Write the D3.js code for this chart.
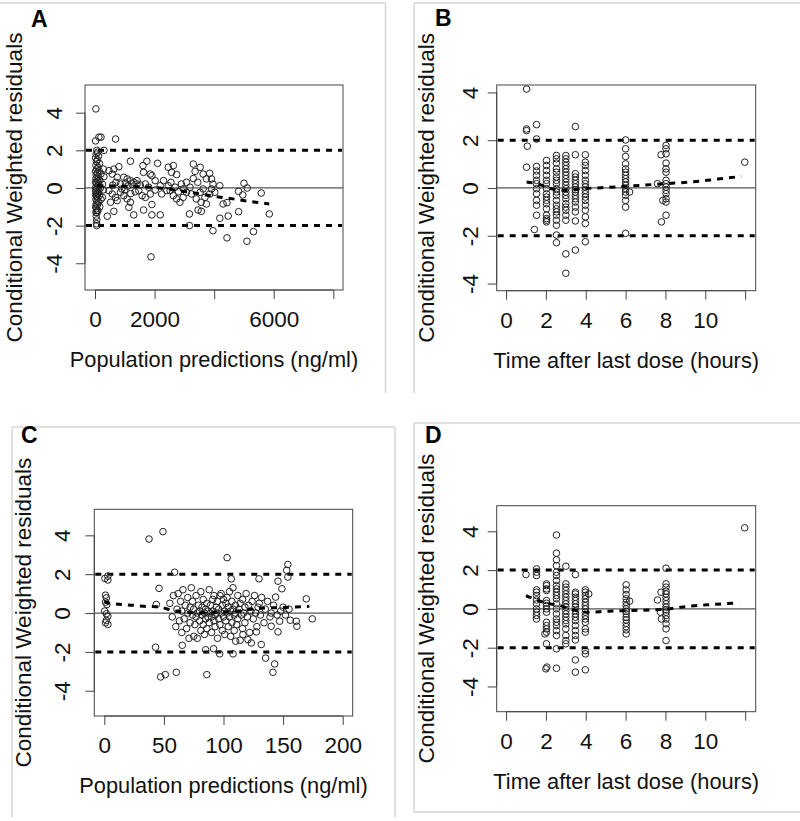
<!DOCTYPE html>
<html><head><meta charset="utf-8">
<script src="https://cdn.jsdelivr.net/npm/d3@7/dist/d3.min.js"></script>
<style>body{margin:0;background:#fff}svg{display:block}text{font-family:"Liberation Sans",Arial,sans-serif}</style>
</head><body>
<svg id="c" width="800" height="821"></svg>
<script>
// ---------------- DATA ----------------
const yTicks = [-4, -2, 0, 2, 4];
const ticksA = [0, 2000, 4000, 6000, 8000];
const tickLabelsA = ["0", "2000", "", "6000", ""];
const ticksTime = [0, 2, 4, 6, 8, 10, 12];
const tickLabelsTime = ["0", "2", "4", "6", "8", "10", ""];
const ticksC = [0, 50, 100, 150, 200];
const tickLabelsC = ["0", "50", "100", "150", "200"];
const yTitle = "Conditional Weighted residuals";
const xTitleA = "Population predictions (ng/ml)";
const xTitleB = "Time after last dose (hours)";
const limits = [-2, 2];

const pointsA = [[30,4.2],[130,2.7],[200,2.7],[20,2.5],[690,2.6],[300,2.0],[60,2.0],[90,1.9],[40,1.8],[120,1.7],[20,1.6],[80,1.5],[50,1.4],[150,1.3],[30,1.2],[100,1.1],[60,1.0],[20,0.9],[140,0.9],[80,0.8],[40,0.7],[200,0.75],[110,0.6],[30,0.5],[70,0.45],[160,0.4],[20,0.3],[50,0.25],[120,0.2],[90,0.1],[30,0.05],[180,0.0],[60,-0.05],[20,-0.1],[130,-0.15],[40,-0.2],[100,-0.25],[70,-0.3],[20,-0.35],[150,-0.4],[50,-0.45],[90,-0.5],[30,-0.6],[200,-0.6],[60,-0.7],[120,-0.75],[40,-0.85],[80,-0.9],[20,-1.0],[160,-1.0],[50,-1.1],[100,-1.2],[30,-1.3],[70,-1.3],[40,-1.5],[60,-1.7],[50,-1.9],[60,-2.0],[100,0.35],[250,0.2],[280,-0.1],[250,-0.5],[300,0.6],[280,1.0],[55,-1.2],
[467,0.92],[633,1.0],[800,1.13],[578,0.74],[744,0.57],[967,0.57],[1078,0.48],[1190,0.39],[1300,0.3],[1410,0.39],[855,0.21],[1022,0.25],[1245,0.21],[1410,0.21],[1520,0.16],[1690,0.21],[467,-0.14],[578,-0.32],[690,-0.5],[855,-0.23],[967,-0.41],[1078,-0.58],[1190,-0.76],[1135,-1.03],[744,-0.67],[522,-0.76],[633,-1.24],[411,-1.5],[1300,-1.43],[1630,-1.17],[1910,-0.88],[1910,-1.43],[2190,-1.43],[1690,-0.5],[1855,-0.32],[2020,-0.11],[2240,-0.32],[2300,0.39],[2460,0.12],[2520,-0.14],[2630,-0.41],[2740,-0.58],[2850,-0.76],[2960,-0.5],[3070,-0.23],[2900,0.21],[3070,0.3],[3190,0.04],[3240,-0.32],[3400,-0.58],[3560,-0.76],[3460,-1.17],[3570,-1.24],[3170,-1.38],[3740,-0.85],[3850,-0.32],[3910,-0.05],[4020,-0.23],[3960,0.21],[3740,0.48],[3910,0.48],[3630,0.74],[3360,0.88],[3530,1.1],[3300,1.27],[3850,0.78],[2630,1.19],[2460,1.1],[2570,0.83],[2740,0.71],[2100,1.31],[1740,1.42],[1610,1.19],[1630,0.83],[1855,0.74],[2020,0.39],[1190,1.42],[1910,0.65],[1470,-0.14],[1580,-0.41],[1800,0.04],[2190,0.12],[2410,-0.14],[2690,0.04],[2960,-0.05],[3630,-0.05],[3530,-0.23],[3690,-0.5],[900,-0.05],[1100,0.1],[1350,-0.2],[600,0.15],[700,0.3],[1000,-0.1],[1200,-0.3],[2550,0.3],[2800,-0.2],[3300,0.5],[3450,0.3],
[3170,-2.0],[3960,-2.27],[4190,-1.61],[4470,-1.49],[4300,-0.85],[4430,-0.78],[4820,-1.26],[4190,0.12],[5000,0.25],[5110,0.0],[4820,-0.18],[4960,-0.37],[5580,-0.27],[5850,-1.38],[4430,-2.65],[5100,-2.83],[5320,-2.32],[1880,-3.66]];
const trendA_x = [80, 1850, 2960, 4080, 4630, 5400, 5850];
const trendA_y = [0.12, 0.04, -0.18, -0.46, -0.58, -0.76, -0.85];

const pointsB = [[1.03,4.14],[1.03,2.47],[1.03,2.4],[1.07,1.75],[1.03,0.87],[1.42,-1.74],
[1.53,2.65],[1.53,2.05],[1.53,0.9],[1.53,0.71],[1.53,0.53],[1.53,0.32],[1.53,0.18],[1.53,-0.03],[1.53,-0.24],[1.53,-0.52],[1.53,-0.72],[1.53,-1.14],
[2.03,1.15],[2.03,0.94],[2.03,0.73],[2.03,0.53],[2.03,0.32],[2.03,0.18],[2.03,-0.03],[2.03,-0.24],[2.03,-0.38],[2.03,-0.52],[2.03,-0.66],[2.03,-0.87],[2.03,-1.14],[2.03,-1.28],[2.03,-1.35],[2.03,-1.42],
[2.53,1.36],[2.53,1.22],[2.53,1.04],[2.53,0.8],[2.53,0.66],[2.53,0.46],[2.53,0.32],[2.53,0.18],[2.53,-0.03],[2.53,-0.17],[2.53,-0.31],[2.53,-0.52],[2.53,-0.72],[2.53,-0.87],[2.53,-1.0],[2.53,-1.14],[2.53,-1.35],[2.53,-1.56],[2.53,-1.97],[2.53,-2.29],
[3.0,1.36],[3.0,1.22],[3.0,1.08],[3.0,0.94],[3.0,0.8],[3.0,0.66],[3.0,0.53],[3.0,0.39],[3.0,0.25],[3.0,0.11],[3.0,-0.03],[3.0,-0.17],[3.0,-0.31],[3.0,-0.45],[3.0,-0.66],[3.0,-0.8],[3.0,-0.93],[3.0,-1.14],[3.0,-1.35],[3.0,-2.76],[3.0,-3.57],
[3.48,2.57],[3.48,1.39],[3.48,0.6],[3.48,0.46],[3.48,0.32],[3.48,0.18],[3.48,0.04],[3.48,-0.07],[3.48,-0.17],[3.48,-0.31],[3.48,-0.45],[3.48,-0.59],[3.48,-0.8],[3.48,-1.0],[3.48,-1.38],[3.48,-2.6],
[3.98,1.39],[3.98,1.08],[3.98,0.94],[3.98,0.73],[3.98,0.53],[3.98,0.32],[3.98,0.18],[3.98,0.04],[3.98,-0.1],[3.98,-0.24],[3.98,-0.38],[3.98,-0.52],[3.98,-0.72],[3.98,-0.93],[3.98,-1.21],[3.98,-1.49],[3.98,-2.25],
[6.0,2.01],[6.0,1.64],[6.0,1.32],[6.0,1.01],[6.0,0.8],[6.0,0.66],[6.0,0.53],[6.0,0.39],[6.0,0.25],[6.0,0.11],[6.0,-0.03],[6.0,-0.17],[6.0,-0.31],[6.0,-0.52],[6.0,-0.8],[6.0,-1.9],[6.2,-0.17],
[8.03,1.78],[8.03,1.64],[8.03,1.43],[8.03,1.04],[8.03,0.8],[8.03,0.66],[8.03,0.32],[8.03,0.18],[8.03,0.04],[8.03,-0.1],[8.03,-0.24],[8.03,-0.45],[8.03,-0.59],[8.03,-1.14],[7.78,1.39],[7.8,-1.42],[7.6,0.18],[7.87,-0.52],
[11.98,1.08]];
const trendB_x = [1.03, 1.53, 2.28, 3.03, 3.78, 4.78, 6.03, 7.28, 8.03, 8.78, 10.1, 11.1, 11.8];
const trendB_y = [0.25, 0.18, -0.03, -0.1, -0.03, 0.01, 0.07, 0.14, 0.18, 0.22, 0.32, 0.42, 0.48];

const pointsC = [[0.5,1.78],[3,1.9],[3,1.7],[1,0.92],[1.7,0.78],[1,0.56],[2.2,0.44],[0.3,0.1],[1.7,-0.04],[3,-0.16],[1.7,-0.38],[3,-0.59],[1,-0.5],
[37.5,3.81],[49.2,4.19],[103,2.85],[154,2.5],[153,2.2],[154,1.85],[59,2.1],[106.5,1.76],[145.7,1.64],[129.8,1.76],[43,-1.76],[47.3,-3.29],[51.2,-3.17],[60.4,-3.05],[86,-3.17],[141.5,-3.05],[142.9,-2.62],[135.3,-2.32],[85,-1.89],[91.7,-1.84],[96.8,-2.1],[108,-2.1],[65.4,-1.66],[174.5,-0.3],[169.5,0.73],[161,-0.42],[161.6,-0.68],[156,-0.37],[149,1.25],[143.7,0.82],[147.1,-0.42],[145.7,-0.97],[140,-0.68],[131.7,-1.62],[127.5,-0.97],[123.3,-1.54],[120.5,-1.37],[110.2,-1.45],[116.3,-1.11],[45.9,1.27],[43.6,0.44],
[55,0.5],[57,-0.2],[58,0.9],[60,-0.7],[61,0.2],[62,1.0],[63,-0.4],[64,0.6],[65,-1.0],[65,0.1],[66,1.2],[67,-0.3],[68,0.4],[69,-0.8],[70,0.0],[70,0.8],[71,-1.3],[72,0.3],[72,-0.5],[73,1.3],[74,-0.1],[74,0.6],[75,-1.2],[75,0.2],[76,-0.6],[77,0.9],[77,-0.2],[78,0.0],[78,-1.3],[79,0.4],[80,-0.4],[80,0.1],[81,-0.9],[81,1.1],[82,-0.1],[82,0.3],[83,-0.6],[83,0.7],[84,0.0],[84,-1.1],[85,0.2],[85,-0.3],[86,0.5],[86,-0.8],[87,0.1],[87,-0.2],[88,1.2],[88,-0.5],[89,0.0],[89,0.4],[90,-1.0],[90,-0.2],[91,0.7],[91,0.1],[92,-0.4],[92,0.9],[93,-0.1],[93,-0.7],[94,0.3],[94,0.0],[95,-1.3],[95,0.6],[96,-0.3],[96,0.2],[97,0.9],[97,-0.6],[98,0.0],[98,1.0],[99,-0.9],[99,0.4],[100,-0.2],[100,0.7],[101,0.1],[101,-1.1],[102,0.5],[102,-0.4],[103,0.0],[103,0.8],[104,-0.7],[104,0.3],[105,1.1],[105,-0.2],[106,0.1],[106,-1.2],[107,0.6],[107,-0.5],[108,0.2],[108,1.3],[109,-0.1],[109,-0.9],[110,0.4],[110,0.0],[111,-0.6],[112,0.9],[112,-0.3],[113,0.2],[114,-1.4],[114,0.5],[115,-0.1],[116,0.7],[116,-0.8],[117,0.0],[118,0.3],[118,-0.5],[119,1.0],[120,-0.2],[121,0.4],[122,-1.0],[123,0.1],[124,0.6],[125,-0.3],[126,0.9],[127,0.0],[128,-0.7],[129,0.3],[130,0.5],[131,-0.1],[132,0.8],[134,-0.5],[135,0.2],[137,0.6],[139,-0.2],[140,0.0],[142,0.4],[145,-0.1],[148,0.1],[150,0.3],[152,-0.1],[155,0.2]];
const trendC_x = [0, 3, 24, 35, 43.6, 60, 83, 102, 116, 127.5, 141.5, 158, 172];
const trendC_y = [0.6, 0.52, 0.4, 0.34, 0.33, 0.1, 0.0, 0.06, 0.13, 0.23, 0.27, 0.3, 0.35];

const pointsD = [[1.0,1.77],
[1.53,2.06],[1.53,1.89],[1.53,1.72],[1.53,0.98],[1.53,0.86],[1.53,0.69],[1.53,0.46],[1.53,0.26],[1.53,0],[1.53,-0.17],[1.53,-0.34],[1.53,-0.52],
[2.03,1.29],[2.03,1.2],[2.03,1.03],[2.03,0.95],[2.03,0.43],[2.03,0.29],[2.03,0.17],[2.03,0],[2.03,-0.17],[2.03,-0.69],[2.03,-0.86],[2.03,-1.03],[2.03,-1.2],[2.03,-1.8],[2.0,-3.09],[2.05,-3.0],[1.95,-1.29],
[2.53,3.81],[2.53,2.87],[2.53,2.53],[2.53,2.23],[2.53,1.89],[2.53,1.72],[2.53,1.46],[2.53,1.2],[2.53,1.03],[2.53,0.86],[2.53,0.69],[2.53,0.52],[2.53,0.26],[2.53,0],[2.53,-0.26],[2.53,-0.52],[2.53,-0.69],[2.53,-0.86],[2.53,-1.12],[2.53,-1.37],[2.53,-2.06],[2.53,-3.06],[3.0,2.2],
[3.0,1.29],[3.0,1.12],[3.0,0.95],[3.0,0.77],[3.0,0.6],[3.0,0.43],[3.0,0.26],[3.0,0.09],[3.0,-0.09],[3.0,-0.26],[3.0,-0.43],[3.0,-0.6],[3.0,-0.77],[3.0,-1.03],[3.0,-1.37],[3.0,-1.63],[3.0,-1.8],
[3.48,1.77],[3.48,0.86],[3.48,0.77],[3.48,0.6],[3.48,0.43],[3.48,0.26],[3.48,0.09],[3.48,-0.09],[3.48,-0.26],[3.48,-0.43],[3.48,-0.6],[3.48,-0.86],[3.48,-1.12],[3.48,-1.37],[3.48,-1.6],[3.48,-2.63],[3.48,-3.26],
[3.98,0.98],[3.98,0.86],[3.98,0.69],[3.98,0.52],[3.98,0.34],[3.98,0.17],[3.98,0],[3.98,-0.17],[3.98,-0.34],[3.98,-0.52],[3.98,-0.69],[3.98,-1.03],[3.98,-1.2],[3.98,-2.15],[3.98,-2.32],[3.98,-3.14],[4.15,0.77],
[6.03,1.24],[6.03,0.98],[6.03,0.74],[6.03,0.52],[6.03,0.34],[6.03,0.17],[6.03,0],[6.03,-0.12],[6.03,-0.26],[6.03,-0.43],[6.03,-0.57],[6.03,-0.74],[6.03,-0.91],[6.03,-1.08],[6.03,-1.29],[6.2,0.4],
[8.03,2.1],[8.03,1.29],[8.03,1.12],[8.03,0.91],[8.03,0.77],[8.03,0.6],[8.03,0.43],[8.03,0.26],[8.03,0.09],[8.03,-0.05],[8.03,-0.17],[8.03,-0.34],[8.03,-0.52],[8.03,-0.77],[8.03,-1.03],[8.03,-1.63],[7.78,0.86],[7.6,0.46],[7.75,-0.17],[7.8,-0.52],
[11.98,4.18]];
const trendD_x = [1.0, 1.62, 2.2, 2.6, 3.2, 4.03, 5.12, 6.12, 7.28, 8.03, 8.78, 10.1, 11.7];
const trendD_y = [0.69, 0.43, 0.26, 0.2, 0.0, -0.17, -0.12, -0.09, -0.05, -0.02, 0.09, 0.21, 0.31];

// ---------------- LAYOUT ----------------
const panels = [
  {letter:"A", letterXY:[31,27], box:[85,343,85,290], xd:[-336,8325], yd:[-5.42,5.47],
   xt:ticksA, xl:tickLabelsA, title:xTitleA, pts:pointsA, tx:trendA_x, ty:trendA_y, ylabGap:23},
  {letter:"B", letterXY:[435,26], box:[496.7,755.7,85,290.7], xd:[-0.47,12.53], yd:[-4.3,4.31],
   xt:ticksTime, xl:tickLabelsTime, title:xTitleB, pts:pointsB, tx:trendB_x, ty:trendB_y, ylabGap:18.5},
  {letter:"C", letterXY:[21,443], box:[94.3,352.7,509.3,716], xd:[-8.4,208.4], yd:[-5.3,5.34],
   xt:ticksC, xl:tickLabelsC, title:xTitleA, pts:pointsC, tx:trendC_x, ty:trendC_y, ylabGap:24},
  {letter:"D", letterXY:[425,443], box:[496.7,755.7,505.7,711.7], xd:[-0.47,12.53], yd:[-5.3,5.32],
   xt:ticksTime, xl:tickLabelsTime, title:xTitleB, pts:pointsD, tx:trendD_x, ty:trendD_y, ylabGap:18.5}
];

const svg = d3.select("#c");
// panel frames (light grey)
const frame = "#d6d6d6";
const frames = [
  [[0,3],[385.5,3]], [[385.5,3],[385.5,393]],
  [[414,3],[800,3]], [[414,3],[414,393]],
  [[12,427],[395,427]], [[12,427],[12,817]], [[395,427],[395,817]],
  [[414,423],[800,423]], [[414,423],[414,812]], [[414,812],[800,812]]
];
svg.selectAll("line.frame").data(frames).join("line").attr("class","frame")
  .attr("x1",d=>d[0][0]).attr("y1",d=>d[0][1]).attr("x2",d=>d[1][0]).attr("y2",d=>d[1][1])
  .attr("stroke",frame).attr("stroke-width",1.5);

panels.forEach(p => {
  const [x0,x1,y0,y1] = p.box;
  const x = d3.scaleLinear().domain(p.xd).range([x0,x1]);
  const y = d3.scaleLinear().domain(p.yd).range([y1,y0]);
  const g = svg.append("g");

  // box
  g.append("rect").attr("x",x0).attr("y",y0).attr("width",x1-x0).attr("height",y1-y0)
    .attr("fill","none").attr("stroke","#444").attr("stroke-width",1);

  // x axis
  const xa = g.append("g").attr("transform",`translate(0,${y1})`)
    .call(d3.axisBottom(x).tickValues(p.xt).tickSize(9).tickSizeOuter(0).tickFormat((d,i)=>p.xl[i]));
  xa.select(".domain").attr("d",`M${x(p.xt[0])},0H${x(p.xt[p.xt.length-1])}`).attr("stroke","#444");
  xa.selectAll(".tick line").attr("stroke","#444");
  xa.selectAll(".tick text").attr("font-size",22.5).attr("fill","#111").attr("dy",0).attr("y",37)
    .attr("font-family","'Liberation Sans',Arial,sans-serif");

  // y axis
  const ya = g.append("g").attr("transform",`translate(${x0},0)`)
    .call(d3.axisLeft(y).tickValues(yTicks).tickSize(9).tickSizeOuter(0).tickFormat(d3.format("d")));
  ya.select(".domain").attr("d",`M0,${y(4)}V${y(-4)}`).attr("stroke","#444");
  ya.selectAll(".tick line").attr("stroke","#444");
  ya.selectAll(".tick text").attr("font-size",22.5).attr("fill","#111")
    .attr("x",null).attr("dy",null).attr("text-anchor","middle")
    .attr("transform",`translate(${-p.ylabGap},0) rotate(-90)`)
    .attr("font-family","'Liberation Sans',Arial,sans-serif")
    .text(d=>d3.format("d")(d).replace("−","-"));

  // zero reference line
  g.append("line").attr("x1",x0).attr("x2",x1).attr("y1",y(0)).attr("y2",y(0))
    .attr("stroke","#555").attr("stroke-width",1.2);
  // ±2 dashed limits
  g.selectAll("line.lim").data(limits).join("line").attr("class","lim")
    .attr("x1",x0+1).attr("x2",x1-1).attr("y1",d=>y(d)).attr("y2",d=>y(d))
    .attr("stroke","#000").attr("stroke-width",3).attr("stroke-dasharray","6,6");

  // points
  g.selectAll("circle").data(p.pts).join("circle")
    .attr("cx",d=>x(d[0])).attr("cy",d=>y(d[1])).attr("r",3.3)
    .attr("fill","none").attr("stroke","#222").attr("stroke-width",1);

  // trend (smooth) line
  const td = p.tx.map((v,i)=>[v,p.ty[i]]);
  g.append("path").datum(td)
    .attr("d",d3.line().x(d=>x(d[0])).y(d=>y(d[1])).curve(d3.curveMonotoneX))
    .attr("fill","none").attr("stroke","#000").attr("stroke-width",3).attr("stroke-dasharray","6,6");

  // titles
  const cy = (y0+y1)/2;
  g.append("text").attr("transform",`translate(${x0-63},${cy}) rotate(-90)`)
    .attr("text-anchor","middle").attr("font-size",22.5).attr("fill","#111").text(yTitle);
  g.append("text").attr("x",(x0+x1)/2).attr("y",y1+77).attr("text-anchor","middle")
    .attr("font-size",21.8).attr("fill","#111").text(p.title);
  g.append("text").attr("x",p.letterXY[0]).attr("y",p.letterXY[1])
    .attr("font-size",23).attr("font-weight","bold").attr("fill","#000").text(p.letter);
});
</script>
</body></html>
